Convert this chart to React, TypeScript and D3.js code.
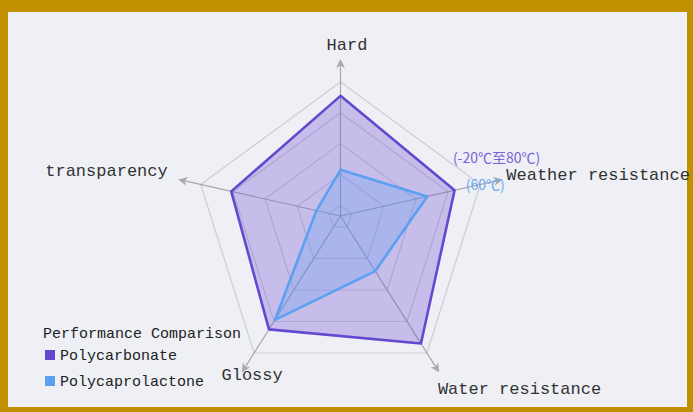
import * as d3 from "d3"

// radar indicators, clockwise from the top
const indicators = ["Hard", "Weather resistance", "Water resistance", "Glossy", "transparency"]
const polycarbonate = [91, 84, 94, 85, 81]
const polycaprolactone = [43, 67, 48, 79, 28]
const ringTicks = [20, 40, 60, 80, 100]
const seriesNames = ["Polycarbonate", "Polycaprolactone"]
const weatherLabels = ["(-20℃至80℃)", "(60℃)"]
const legendTitle = "Performance Comparison"

const W = 693
const H = 412
const cx = 340.5
const cy = 216

const colors = ["#6548d0", "#5ca0f2"]
const fills = ["rgba(110,78,212,0.31)", "rgba(92,160,242,0.28)"]
const labelColors = ["#7a62d8", "#6aa8ef"]

// name label placement relative to the outer vertex
const nameLayout = [
  { anchor: "middle", dx: 6.5, dy: -37 },
  { anchor: "start", dx: 26, dy: -8.5 },
  { anchor: "start", dx: 11, dy: 36 },
  { anchor: "middle", dx: -2, dy: 22 },
  { anchor: "end", dx: -33, dy: -13 },
]
const valueLabelOffset = [
  { dx: 42, dy: -33 },
  { dx: 58, dy: -12 },
]

const angle = d3.scaleLinear().domain([0, indicators.length]).range([0, 2 * Math.PI])
const projX = d3.scaleLinear().domain([-1, 1]).range([-147, 147])
const projY = d3.scaleLinear().domain([-1, -0.309, 0.809]).range([-134, -31.5, 137])
const r = d3.scaleLinear().domain([0, 20, 100]).range([0, 0.08, 1])

const axisVec = indicators.map((_, i) => {
  const a = angle(i)
  return [projX(Math.sin(a)), projY(-Math.cos(a))]
})

const point = (i: number, v: number): [number, number] => [
  cx + axisVec[i][0] * r(v),
  cy + axisVec[i][1] * r(v),
]

const closed = d3.line<[number, number]>().curve(d3.curveLinearClosed)

const font = "'Liberation Mono', 'DejaVu Sans Mono', monospace"

export default function App() {
  const series = [polycarbonate, polycaprolactone]
  const max = ringTicks[ringTicks.length - 1]

  return (
    <svg width={W} height={H} style={{ position: "absolute", left: 0, top: 0 }}>
      <defs>
        <marker id="arrow" viewBox="0 0 10 10" refX="9" refY="5" markerWidth="9" markerHeight="9" markerUnits="userSpaceOnUse" orient="auto">
          <path d="M0,0 L10,5 L0,10 L3,5 Z" fill="#a8a8ae" />
        </marker>
      </defs>
      <rect x={0} y={0} width={W} height={H} fill="#c09000" />
      <rect x={8} y={12} width={679} height={395} fill="#eef0f5" />

      {ringTicks.map((t) => (
        <path
          key={t}
          d={closed(indicators.map((_, i) => point(i, t))) || ""}
          fill="none"
          stroke="#cdcdd3"
          strokeWidth={1.2}
        />
      ))}

      {indicators.map((_, i) => {
        const [ox, oy] = point(i, max)
        const len = Math.hypot(ox - cx, oy - cy)
        const ex = ox + ((ox - cx) / len) * 22
        const ey = oy + ((oy - cy) / len) * 22
        return (
          <line key={i} x1={cx} y1={cy} x2={ex} y2={ey} stroke="#a8a8ae" strokeWidth={1.2} markerEnd="url(#arrow)" />
        )
      })}

      {series.map((vals, s) => (
        <path
          key={s}
          d={closed(vals.map((v, i) => point(i, v))) || ""}
          fill={fills[s]}
          stroke={colors[s]}
          strokeWidth={2.6}
          strokeLinejoin="round"
        />
      ))}

      {series.map((vals, s) => {
        const [px, py] = point(1, vals[1])
        return (
          <text
            key={s}
            x={px + valueLabelOffset[s].dx}
            y={py + valueLabelOffset[s].dy}
            textAnchor="middle"
            dominantBaseline="central"
            fontFamily="'Noto Sans CJK SC', 'Noto Sans', sans-serif"
            fontSize={14}
            fill={labelColors[s]}
          >
            {weatherLabels[s]}
          </text>
        )
      })}

      {indicators.map((name, i) => {
        const [ox, oy] = point(i, max)
        const l = nameLayout[i]
        return (
          <text
            key={name}
            x={ox + l.dx}
            y={oy + l.dy}
            textAnchor={l.anchor as any}
            dominantBaseline="central"
            fontFamily={font}
            fontSize={17}
            fill="#333"
          >
            {name}
          </text>
        )
      })}

      <g fontFamily={font}>
        <text x={43} y={334} dominantBaseline="central" fontSize={15} fill="#222">
          {legendTitle}
        </text>
        {seriesNames.map((name, s) => (
          <g key={name} transform={`translate(45,${350 + s * 26})`}>
            <rect x={0} y={0} width={10} height={10} fill={colors[s]} />
            <text x={15} y={6} dominantBaseline="central" fontSize={15} fill="#222">
              {name}
            </text>
          </g>
        ))}
      </g>
    </svg>
  )
}
